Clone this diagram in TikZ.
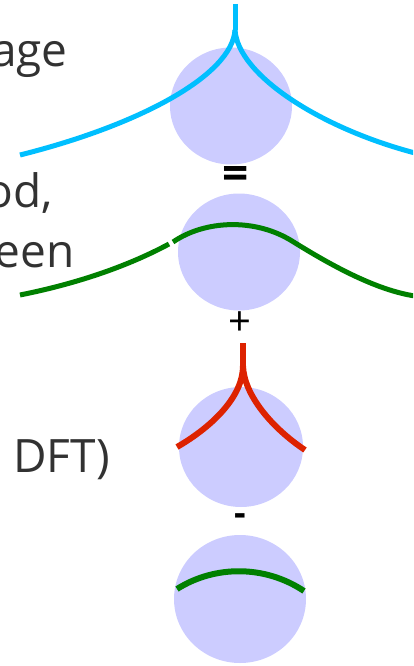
\documentclass[tikz,border=0pt]{standalone}
\usepackage{fontspec}
\setmainfont{Open Sans}
\definecolor{disc}{RGB}{204,204,255}
\definecolor{cyanline}{RGB}{0,191,255}
\definecolor{greenline}{RGB}{0,128,0}
\definecolor{redline}{RGB}{221,34,0}
\definecolor{textgray}{RGB}{50,50,50}
\tikzset{
  lbl/.style={inner sep=0pt, anchor=base east, text=textgray, font=\fontsize{46}{55}\selectfont},
  sym/.style={inner sep=0pt, text=black},
  curve/.style={line width=5pt, line cap=butt},
}
\begin{document}
\begin{tikzpicture}[x=1pt,y=-1pt]
\useasboundingbox (0,0) rectangle (413,666);
\clip (0,0) rectangle (413,666);
% discs
\fill[disc] (231,106) ellipse [x radius=61, y radius=58.5];
\fill[disc] (239,252) ellipse [x radius=61, y radius=58.5];
\fill[disc] (241,447) ellipse [x radius=62, y radius=60];
\fill[disc] (240,599) ellipse [x radius=66, y radius=64];
% labels
\node[lbl] (t1) at (68,67) {age};
\node[lbl] (t2) at (53,207) {od,};
\node[lbl] (t3) at (75,267) {een};
\node[lbl] (t4) at (110,472) {DFT)};
% operators
\node[sym, font=\fontsize{46}{50}\selectfont\bfseries] (eq) at (236,178) {=};
\node[sym, font=\fontsize{40}{44}\selectfont] (pl) at (240,324) {+};
\node[sym, font=\fontsize{36}{40}\selectfont\bfseries] (mi) at (240,520) {-};
% cyan cusp
\coordinate (c1top) at (235,4);
\coordinate (c1cusp) at (235,30);
\coordinate (c1l) at (20,155);
\coordinate (c1r) at (415,153);
\draw[curve, cyanline] (c1top) -- (c1cusp);
\draw[curve, cyanline] (c1cusp) .. controls (232,75) and (140,125) .. (c1l);
\draw[curve, cyanline] (c1cusp) .. controls (238,75) and (320,128) .. (c1r);
% green bell
\coordinate (g1l) at (20,295);
\coordinate (g1a) at (169,244);
\coordinate (g1b) at (173,242);
\coordinate (g1m) at (292,241);
\coordinate (g1r) at (415,296);
\draw[curve, greenline] (g1l) .. controls (80,283) and (130,265) .. (g1a);
\draw[curve, greenline] (g1b) .. controls (205,220) and (255,218) .. (g1m)
   .. controls (329,264) and (375,290) .. (g1r);
% red cusp
\coordinate (r1top) at (243,343);
\coordinate (r1cusp) at (243,366);
\coordinate (r1l) at (177,447);
\coordinate (r1r) at (305,450);
\draw[curve, redline, line width=6pt] (r1top) -- (r1cusp);
\draw[curve, redline, line width=6pt] (r1cusp) .. controls (243,395) and (215,425) .. (r1l);
\draw[curve, redline, line width=6pt] (r1cusp) .. controls (244,395) and (272,428) .. (r1r);
% green arc
\coordinate (g2l) at (177,589);
\coordinate (g2r) at (304,591);
\draw[curve, greenline, line width=6pt] (g2l) .. controls (215,565) and (265,565) .. (g2r);
\end{tikzpicture}
\end{document}
